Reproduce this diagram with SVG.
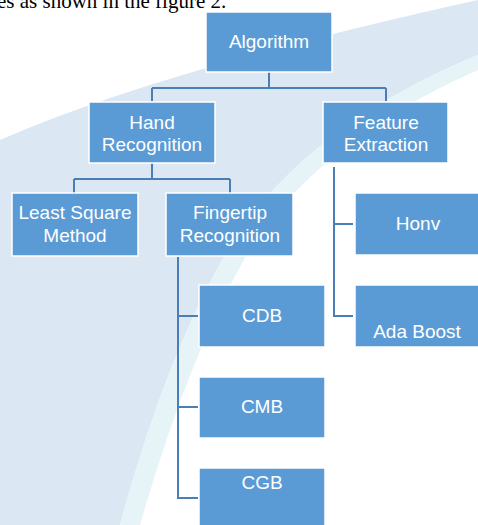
<svg xmlns="http://www.w3.org/2000/svg" width="478" height="525" viewBox="0 0 478 525">
<style>
.box{fill:#5b9bd5;stroke:#ffffff;stroke-width:1.5}
.t{font-family:"Liberation Sans",Arial,sans-serif;font-size:19px;fill:#ffffff;text-anchor:middle}
.c{fill:none;stroke:#4a7fb5;stroke-width:2}
</style>
<rect width="478" height="525" fill="#ffffff"/>
<path d="M0,140 Q160,70 478,0 L478,55 Q320,120 240,230 Q170,340 120,525 L0,525 Z" fill="#dce7f4"/>
<path d="M120,525 Q170,340 240,230 Q320,120 478,55 L478,70 Q330,135 255,240 Q190,350 140,525 Z" fill="#e6f4f8"/>
<text x="-3" y="8" font-family="'Liberation Serif','Times New Roman',serif" font-size="21" fill="#000000">es as shown in the figure 2.</text>
<g id="connectors">
<path class="c" d="M269,72 V88 M152,88 H386 M152,88 V101 M386,88 V101"/>
<path class="c" d="M152,163 V179 M74,179 H230 M74,179 V193 M230,179 V193"/>
<path class="c" d="M334,167 V316 H353 M334,224 H353"/>
<path class="c" d="M178,257 V498 H198 M178,316 H198 M178,407 H198"/>
</g>
<g id="algorithm"><rect class="box" x="206" y="12" width="126" height="60"/><text class="t" x="269" y="48">Algorithm</text></g>
<g id="hand-recognition"><rect class="box" x="89" y="102" width="126" height="61"/><text class="t" x="152" y="129">Hand</text><text class="t" x="152" y="151">Recognition</text></g>
<g id="feature-extraction"><rect class="box" x="323" y="102" width="125" height="61"/><text class="t" x="386" y="129">Feature</text><text class="t" x="386" y="151">Extraction</text></g>
<g id="least-square"><rect class="box" x="12" y="193" width="126" height="63"/><text class="t" x="75" y="219">Least Square</text><text class="t" x="75" y="242">Method</text></g>
<g id="fingertip"><rect class="box" x="166" y="193" width="127" height="63"/><text class="t" x="230" y="219">Fingertip</text><text class="t" x="230" y="242">Recognition</text></g>
<g id="honv"><rect class="box" x="355" y="193" width="125" height="62"/><text class="t" x="418" y="230">Honv</text></g>
<g id="ada-boost"><rect class="box" x="355" y="285" width="125" height="62"/><text class="t" x="417" y="338">Ada Boost</text></g>
<g id="cdb"><rect class="box" x="199" y="285" width="126" height="62"/><text class="t" x="262" y="322">CDB</text></g>
<g id="cmb"><rect class="box" x="199" y="377" width="126" height="61"/><text class="t" x="262" y="413">CMB</text></g>
<g id="cgb"><rect class="box" x="199" y="468" width="126" height="60"/><text class="t" x="262" y="489">CGB</text></g>
</svg>
